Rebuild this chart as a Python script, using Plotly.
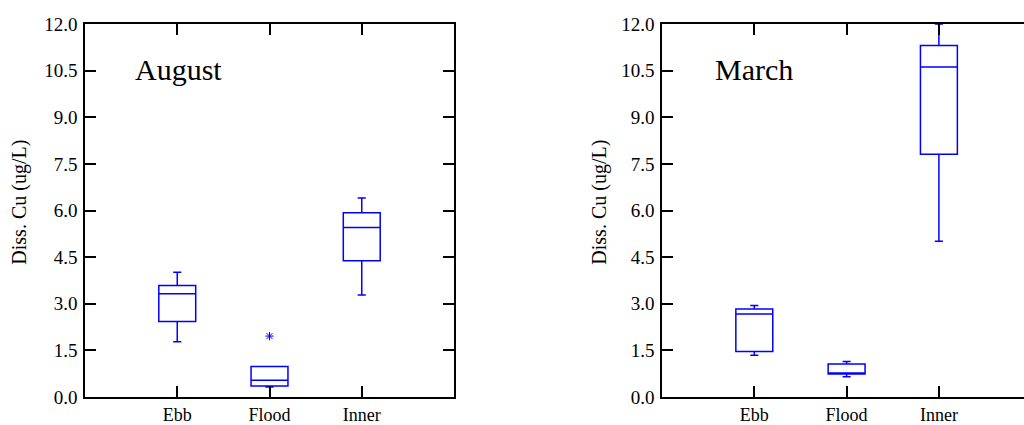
import plotly.graph_objects as go

# ---------------- data ----------------
categories = ["Ebb", "Flood", "Inner"]

# August
aug_lower = [1.78, 0.32, 3.28]
aug_q1 = [2.43, 0.35, 4.38]
aug_median = [3.32, 0.54, 5.45]
aug_q3 = [3.59, 0.98, 5.93]
aug_upper = [4.01, 0.98, 6.40]
aug_outlier_cat = ["Flood"]
aug_outlier_val = [1.96]

# March
mar_lower = [1.34, 0.65, 5.01]
mar_q1 = [1.46, 0.74, 7.81]
mar_median = [2.67, 0.76, 10.62]
mar_q3 = [2.83, 1.06, 11.31]
mar_upper = [2.94, 1.14, 12.0]

y_ticks = [0.0, 1.5, 3.0, 4.5, 6.0, 7.5, 9.0, 10.5, 12.0]
y_title = "Diss. Cu (ug/L)"
panel_titles = ["August", "March"]

# ---------------- figure ----------------
FONT = "Liberation Serif, Times New Roman, serif"
BLUE = "#0000FF"

fig = go.Figure()

def add_box(xa, ya, q1, med, q3, lo, up):
    fig.add_trace(go.Box(
        x=categories, q1=q1, median=med, q3=q3,
        lowerfence=lo, upperfence=up,
        boxpoints=False, width=0.4, whiskerwidth=0.22,
        line=dict(color=BLUE, width=1.5),
        fillcolor="rgba(255,255,255,0)",
        xaxis=xa, yaxis=ya, showlegend=False, hoverinfo="skip",
    ))

add_box("x", "y", aug_q1, aug_median, aug_q3, aug_lower, aug_upper)
add_box("x2", "y2", mar_q1, mar_median, mar_q3, mar_lower, mar_upper)

fig.add_trace(go.Scatter(
    x=aug_outlier_cat, y=aug_outlier_val, mode="markers",
    marker=dict(symbol="asterisk-open", size=7, color=BLUE,
                line=dict(color=BLUE, width=1)),
    xaxis="x", yaxis="y", showlegend=False, hoverinfo="skip",
))

W = 1024.0
cat_px = 92.3
left_dom = [85 / W, 454 / W]
right_dom = [662 / W, 1.0]

xcommon = dict(
    type="category", showline=True, linecolor="black", linewidth=1.5,
    mirror="ticks", ticks="inside", ticklen=11, tickwidth=1.5,
    tickcolor="black", showgrid=False, zeroline=False, ticklabelstandoff=1,
    automargin=False,
    tickfont=dict(family=FONT, size=18, color="black"),
)
ycommon = dict(
    range=[0, 12], tickvals=y_ticks, tickformat=".1f",
    showline=True, linecolor="black", linewidth=1.5,
    ticks="inside", ticklen=11, tickwidth=1.5, tickcolor="black",
    showgrid=False, zeroline=False, ticklabelstandoff=2, automargin=False,
    tickfont=dict(family=FONT, size=19, color="black"),
)

fig.update_layout(
    width=1024, height=425,
    margin=dict(l=0, r=0, t=24, b=28, autoexpand=False),
    paper_bgcolor="white", plot_bgcolor="white",
    xaxis=dict(xcommon, domain=left_dom, anchor="y", range=[-1, 3]),
    xaxis2=dict(xcommon, domain=right_dom, anchor="y2",
                range=[-1, -1 + (1024 - 662) / cat_px]),
    yaxis=dict(ycommon, domain=[0, 1], anchor="x", mirror="ticks"),
    yaxis2=dict(ycommon, domain=[0, 1], anchor="x2", mirror=False),
    yaxis3=dict(range=[0, 12], tickvals=y_ticks, overlaying="y2",
                side="right", anchor="x2", showline=False,
                ticks="inside", ticklen=4, tickwidth=1.5,
                tickcolor="black", showticklabels=False,
                showgrid=False, zeroline=False, automargin=False),
)

annotations = [
    dict(text=y_title, textangle=-90, xref="paper", yref="paper",
         x=20 / W, y=0.521, xanchor="center", yanchor="middle",
         showarrow=False, font=dict(family=FONT, size=20, color="black")),
    dict(text=y_title, textangle=-90, xref="paper", yref="paper",
         x=600 / W, y=0.521, xanchor="center", yanchor="middle",
         showarrow=False, font=dict(family=FONT, size=20, color="black")),
    dict(text=panel_titles[0], xref="paper", yref="paper",
         x=133 / W, y=0.877, xanchor="left", yanchor="middle",
         showarrow=False, font=dict(family=FONT, size=30, color="black")),
    dict(text=panel_titles[1], xref="paper", yref="paper",
         x=713 / W, y=0.877, xanchor="left", yanchor="middle",
         showarrow=False, font=dict(family=FONT, size=30, color="black")),
]
fig.update_layout(annotations=annotations)

fig.write_html(
    "out.html",
    config={"displayModeBar": False},
    post_script="document.body.style.margin='0';document.body.style.overflow='hidden';",
)
